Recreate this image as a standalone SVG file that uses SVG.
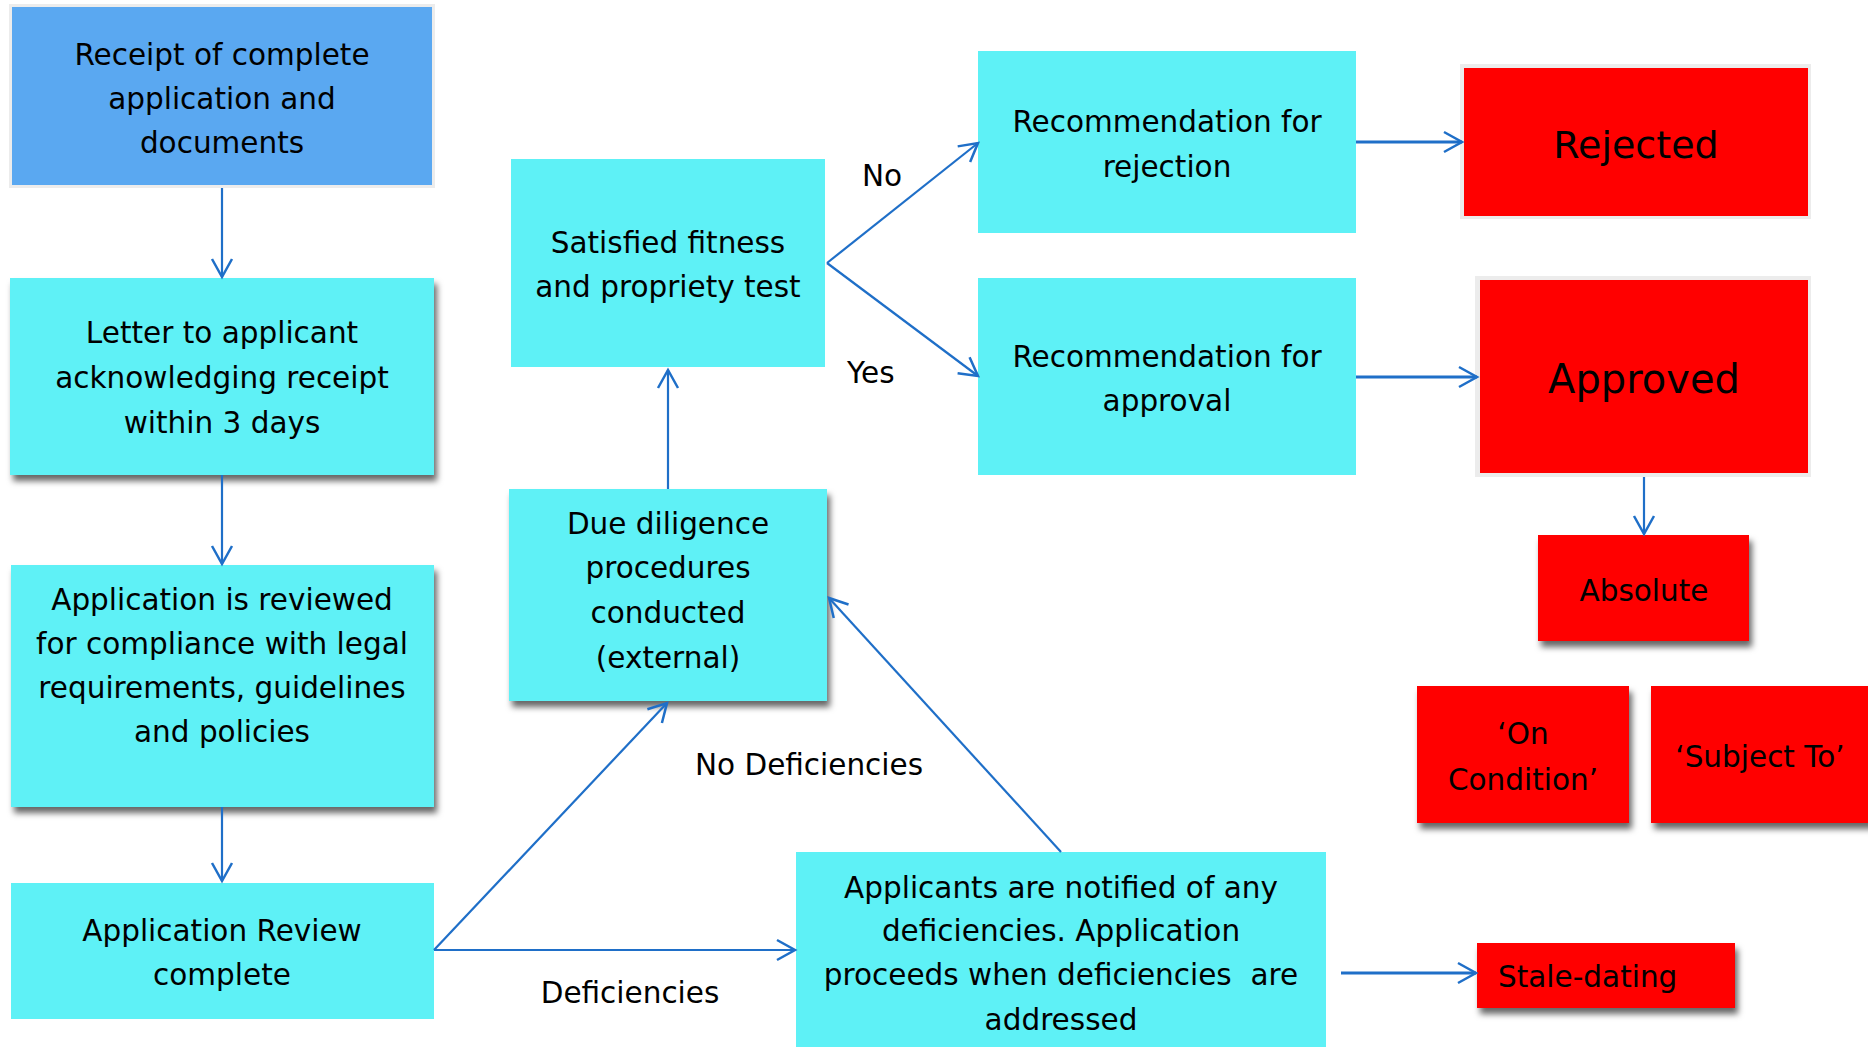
<svg xmlns="http://www.w3.org/2000/svg" width="1868" height="1047" viewBox="0 0 1868 1047">
<style>
  .cy { fill: #5ef1f6; }
  .rd { fill: #ff0000; }
  .bl { fill: #5aa8f1; }
  .brd { fill: #ececec; }
  text { font-family: "DejaVu Sans", "Liberation Sans", sans-serif; font-size: 29.5px; fill: #000; text-anchor: middle; }
  .big1 { font-size: 38px; }
  .big2 { font-size: 40px; }
  .lbl { text-anchor: start; }
  .conn line { stroke: #1f6fc8; stroke-width: 2.2; fill: none; marker-end: url(#arr); }
  .conn line.thick { stroke-width: 3; }
</style>
<defs>
  <marker id="arr" markerUnits="userSpaceOnUse" viewBox="-20 -12 22 24" refX="0" refY="0" markerWidth="22" markerHeight="24" orient="auto" overflow="visible">
    <path d="M-18,-10 L0,0 L-18,10" fill="none" stroke="#1f6fc8" stroke-width="2.5" stroke-linejoin="miter"/>
  </marker>
  <filter id="sh" x="-10%" y="-10%" width="125%" height="135%">
    <feDropShadow dx="3" dy="6" stdDeviation="3" flood-color="#000" flood-opacity="0.6"/>
  </filter>
</defs>
<rect width="1868" height="1047" fill="#fff"/>

<g id="receipt">
  <rect class="brd" x="9" y="4" width="426" height="184"/>
  <rect class="bl" x="12" y="7" width="420" height="178"/>
  <text x="222" y="65">Receipt of complete</text>
  <text x="222" y="109">application and</text>
  <text x="222" y="153">documents</text>
</g>

<g id="letter">
  <rect class="cy" x="10" y="278" width="424" height="197" filter="url(#sh)"/>
  <text x="222" y="343">Letter to applicant</text>
  <text x="222" y="388">acknowledging receipt</text>
  <text x="222" y="433">within 3 days</text>
</g>

<g id="reviewed">
  <rect class="cy" x="11" y="565" width="423" height="242" filter="url(#sh)"/>
  <text x="222" y="610">Application is reviewed</text>
  <text x="222" y="654">for compliance with legal</text>
  <text x="222" y="698">requirements, guidelines</text>
  <text x="222" y="742">and policies</text>
</g>

<g id="review-complete">
  <rect class="cy" x="11" y="883" width="423" height="136"/>
  <text x="222" y="941">Application Review</text>
  <text x="222" y="985">complete</text>
</g>

<g id="due-diligence">
  <rect class="cy" x="509" y="489" width="318" height="212" filter="url(#sh)"/>
  <text x="668" y="534">Due diligence</text>
  <text x="668" y="578">procedures</text>
  <text x="668" y="623">conducted</text>
  <text x="668" y="668">(external)</text>
</g>

<g id="satisfied">
  <rect class="cy" x="511" y="159" width="314" height="208"/>
  <text x="668" y="253">Satisfied fitness</text>
  <text x="668" y="297">and propriety test</text>
</g>

<g id="rec-rejection">
  <rect class="cy" x="978" y="51" width="378" height="182"/>
  <text x="1167" y="132">Recommendation for</text>
  <text x="1167" y="177">rejection</text>
</g>

<g id="rec-approval">
  <rect class="cy" x="978" y="278" width="378" height="197"/>
  <text x="1167" y="367">Recommendation for</text>
  <text x="1167" y="411">approval</text>
</g>

<g id="rejected">
  <rect class="brd" x="1460" y="64" width="351" height="155"/>
  <rect class="rd" x="1464" y="68" width="344" height="148"/>
  <text class="big1" x="1636" y="158">Rejected</text>
</g>

<g id="approved">
  <rect class="brd" x="1475" y="276" width="336" height="201"/>
  <rect class="rd" x="1480" y="280" width="328" height="193"/>
  <text class="big2" x="1644" y="393">Approved</text>
</g>

<g id="absolute">
  <rect class="rd" x="1538" y="535" width="211" height="106" filter="url(#sh)"/>
  <text x="1644" y="601">Absolute</text>
</g>

<g id="on-condition">
  <rect class="rd" x="1417" y="686" width="212" height="137" filter="url(#sh)"/>
  <text x="1523" y="744">‘On</text>
  <text x="1523" y="790">Condition’</text>
</g>

<g id="subject-to">
  <rect class="rd" x="1651" y="686" width="230" height="137" filter="url(#sh)"/>
  <text x="1760" y="767">‘Subject To’</text>
</g>

<g id="applicants">
  <rect class="cy" x="796" y="852" width="530" height="200"/>
  <text x="1061" y="898">Applicants are notified of any</text>
  <text x="1061" y="941">deficiencies. Application</text>
  <text x="1061" y="985" xml:space="preserve">proceeds when deficiencies  are</text>
  <text x="1061" y="1030">addressed</text>
</g>

<g id="stale-dating">
  <rect class="rd" x="1477" y="943" width="258" height="65" filter="url(#sh)"/>
  <text class="lbl" x="1498" y="987">Stale-dating</text>
</g>

<g id="connectors" class="conn">
  <line x1="222" y1="188" x2="222" y2="277"/>
  <line x1="222" y1="475" x2="222" y2="564"/>
  <line x1="222" y1="807" x2="222" y2="881"/>
  <line x1="434" y1="950" x2="667" y2="703"/>
  <line x1="434" y1="950" x2="795" y2="950"/>
  <line x1="668" y1="489" x2="668" y2="370"/>
  <line x1="1061" y1="852" x2="829" y2="598"/>
  <line x1="827" y1="263" x2="978" y2="143"/>
  <line x1="827" y1="263" x2="978" y2="376"/>
  <line class="thick" x1="1356" y1="142" x2="1462" y2="142"/>
  <line class="thick" x1="1356" y1="377" x2="1477" y2="377"/>
  <line x1="1644" y1="477" x2="1644" y2="534"/>
  <line class="thick" x1="1341" y1="973" x2="1476" y2="973"/>
</g>

<g id="labels">
  <text class="lbl" x="862" y="186">No</text>
  <text class="lbl" x="847" y="383">Yes</text>
  <text x="809" y="775">No Deficiencies</text>
  <text x="630" y="1003">Deficiencies</text>
</g>
</svg>
